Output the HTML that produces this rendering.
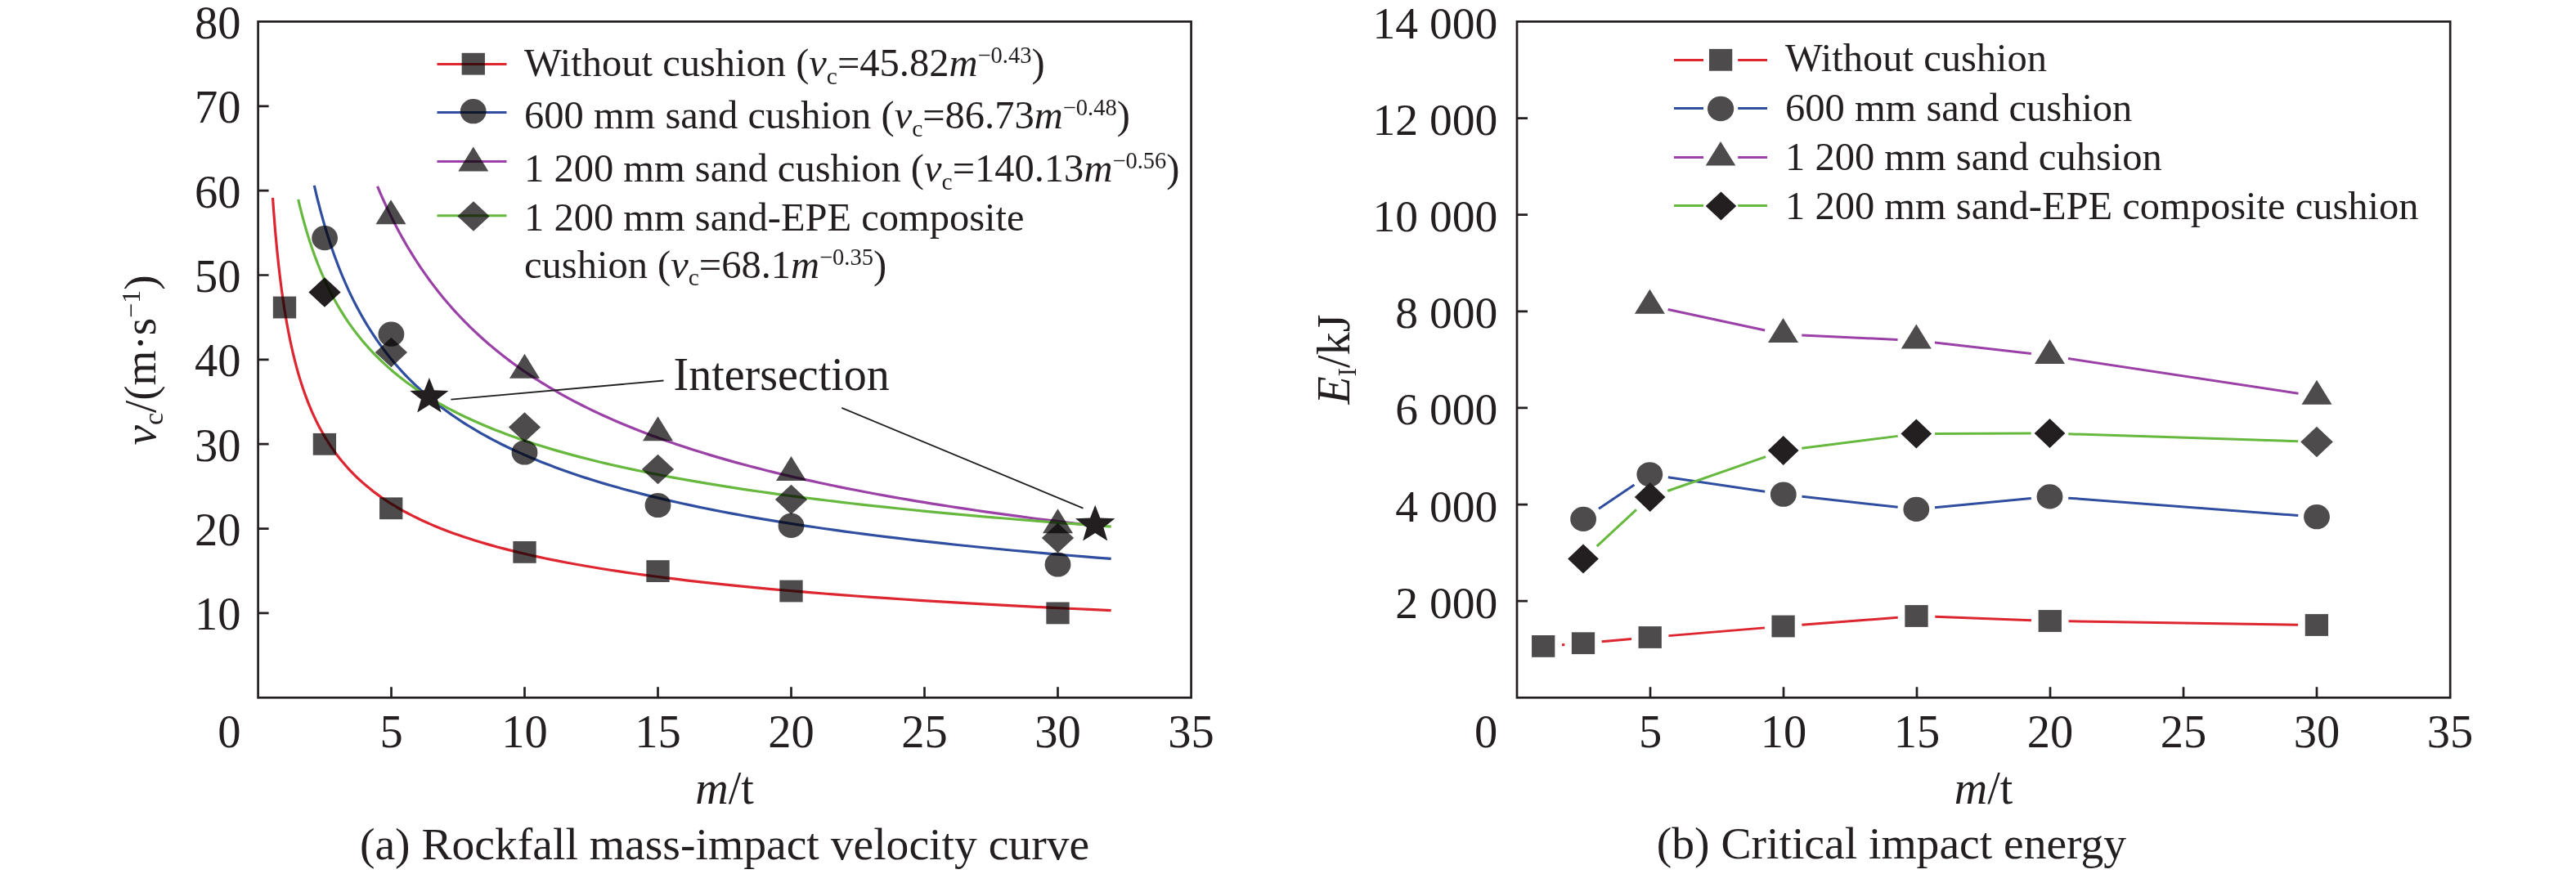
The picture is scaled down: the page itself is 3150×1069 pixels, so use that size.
<!DOCTYPE html><html><head><meta charset="utf-8"><style>html,body{margin:0;padding:0;background:#fff;}svg{display:block;}g.mul>*{mix-blend-mode:multiply;}text{font-family:"Liberation Serif",serif;fill:#231f20;}</style></head><body>
<svg width="3150" height="1069" viewBox="0 0 3150 1069">
<rect width="3150" height="1069" fill="#fff"/>
<path d="M333.5 241.83L333.96 248.47L334.43 255.03L334.92 261.52L335.42 267.95L335.93 274.3L336.45 280.58L336.99 286.8L337.55 292.94L338.11 299.02L338.69 305.04L339.29 310.99L339.9 316.87L340.53 322.69L341.17 328.45L341.83 334.15L342.51 339.78L343.2 345.35L343.91 350.87L344.64 356.32L345.39 361.71L346.16 367.05L346.95 372.32L347.76 377.54L348.59 382.71L349.44 387.81L350.31 392.86L351.2 397.86L352.12 402.8L353.06 407.69L354.03 412.53L355.02 417.31L356.03 422.04L357.07 426.72L358.14 431.35L359.24 435.93L360.36 440.46L361.51 444.94L362.7 449.37L363.91 453.75L365.15 458.09L366.43 462.38L367.74 466.62L369.08 470.82L370.46 474.97L371.87 479.07L373.32 483.13L374.81 487.15L376.33 491.12L377.89 495.05L379.5 498.94L381.14 502.79L382.83 506.59L384.56 510.35L386.33 514.08L388.15 517.76L390.02 521.4L391.94 525L393.9 528.56L395.92 532.09L397.98 535.57L400.1 539.02L402.28 542.43L404.51 545.8L406.79 549.14L409.14 552.44L411.55 555.71L414.01 558.94L416.55 562.13L419.14 565.29L421.81 568.41L424.54 571.51L427.34 574.56L430.22 577.59L433.16 580.58L436.19 583.54L439.29 586.47L442.47 589.36L445.73 592.23L449.08 595.06L452.51 597.86L456.03 600.64L459.65 603.38L463.35 606.09L467.15 608.77L471.05 611.43L475.04 614.05L479.14 616.65L483.35 619.21L487.66 621.75L492.09 624.27L496.63 626.75L501.28 629.21L506.06 631.64L510.95 634.05L515.98 636.43L521.13 638.78L526.41 641.11L531.83 643.41L537.39 645.69L543.1 647.94L548.94 650.17L554.94 652.38L561.1 654.56L567.41 656.71L573.88 658.85L580.52 660.96L587.33 663.04L594.32 665.11L601.49 667.15L608.84 669.17L616.37 671.17L624.11 673.14L632.04 675.1L640.17 677.03L648.52 678.95L657.07 680.84L665.85 682.71L674.86 684.56L684.09 686.39L693.56 688.2L703.28 689.99L713.25 691.77L723.47 693.52L733.95 695.25L744.71 696.97L755.74 698.67L767.05 700.34L778.65 702L790.56 703.65L802.77 705.27L815.29 706.88L828.13 708.46L841.31 710.04L854.82 711.59L868.68 713.13L882.9 714.65L897.48 716.15L912.43 717.64L927.77 719.11L943.51 720.57L959.65 722.01L976.2 723.44L993.18 724.85L1010.6 726.24L1028.46 727.62L1046.78 728.98L1065.58 730.33L1084.85 731.67L1104.63 732.99L1124.91 734.29L1145.71 735.58L1167.04 736.86L1188.93 738.12L1211.37 739.37L1234.4 740.61L1258.01 741.83L1282.23 743.04L1307.08 744.24L1332.56 745.42L1358.7 746.59" fill="none" stroke="#dd2630" stroke-width="3.2"/>
<path d="M384.29 226.88L385.46 231.97L386.66 237.02L387.88 242.02L389.12 246.99L390.39 251.91L391.67 256.8L392.98 261.65L394.3 266.45L395.65 271.22L397.03 275.95L398.42 280.64L399.85 285.29L401.29 289.91L402.76 294.48L404.26 299.02L405.78 303.53L407.33 307.99L408.9 312.42L410.5 316.82L412.13 321.17L413.79 325.5L415.47 329.79L417.18 334.04L418.93 338.26L420.7 342.44L422.5 346.59L424.34 350.71L426.2 354.79L428.1 358.84L430.03 362.86L431.99 366.84L433.99 370.79L436.02 374.71L438.08 378.6L440.19 382.46L442.32 386.28L444.5 390.08L446.71 393.84L448.96 397.57L451.24 401.28L453.57 404.95L455.94 408.59L458.34 412.2L460.79 415.79L463.28 419.34L465.81 422.87L468.39 426.36L471.01 429.83L473.68 433.27L476.39 436.68L479.14 440.07L481.95 443.43L484.8 446.76L487.7 450.06L490.66 453.33L493.66 456.58L496.71 459.81L499.82 463L502.98 466.17L506.19 469.32L509.46 472.44L512.78 475.53L516.16 478.6L519.6 481.65L523.1 484.66L526.66 487.66L530.28 490.63L533.96 493.58L537.7 496.5L541.51 499.4L545.38 502.27L549.32 505.12L553.33 507.95L557.41 510.76L561.55 513.54L565.77 516.3L570.06 519.04L574.42 521.75L578.86 524.45L583.38 527.12L587.97 529.77L592.64 532.4L597.39 535L602.22 537.59L607.13 540.16L612.13 542.7L617.21 545.22L622.39 547.73L627.65 550.21L633 552.67L638.44 555.11L643.97 557.53L649.6 559.94L655.33 562.32L661.15 564.68L667.08 567.03L673.1 569.36L679.23 571.66L685.47 573.95L691.81 576.22L698.26 578.47L704.82 580.7L711.49 582.92L718.28 585.11L725.18 587.29L732.2 589.45L739.34 591.6L746.61 593.72L754 595.83L761.51 597.92L769.16 600L776.93 602.06L784.84 604.1L792.88 606.12L801.07 608.13L809.39 610.12L817.85 612.1L826.46 614.06L835.22 616L844.13 617.93L853.19 619.84L862.4 621.74L871.78 623.62L881.31 625.48L891.01 627.34L900.87 629.17L910.91 630.99L921.11 632.8L931.49 634.59L942.05 636.37L952.79 638.13L963.71 639.88L974.82 641.61L986.12 643.33L997.61 645.04L1009.31 646.73L1021.2 648.41L1033.29 650.07L1045.59 651.72L1058.11 653.36L1070.83 654.98L1083.78 656.59L1096.95 658.19L1110.34 659.78L1123.97 661.35L1137.82 662.91L1151.92 664.46L1166.25 665.99L1180.83 667.51L1195.66 669.02L1210.75 670.52L1226.09 672L1241.7 673.48L1257.57 674.94L1273.72 676.39L1290.14 677.82L1306.85 679.25L1323.84 680.66L1341.12 682.07L1358.7 683.46" fill="none" stroke="#2f4ea0" stroke-width="3.2"/>
<path d="M461.55 227.89L463.34 232.14L465.15 236.37L466.99 240.56L468.85 244.73L470.73 248.87L472.63 252.98L474.56 257.07L476.51 261.12L478.48 265.15L480.48 269.15L482.5 273.13L484.55 277.07L486.63 280.99L488.73 284.89L490.85 288.75L493 292.6L495.18 296.41L497.38 300.2L499.61 303.96L501.87 307.7L504.16 311.41L506.47 315.1L508.81 318.76L511.18 322.39L513.58 326.01L516.01 329.59L518.47 333.16L520.96 336.69L523.48 340.21L526.03 343.7L528.61 347.17L531.23 350.61L533.87 354.03L536.55 357.43L539.26 360.8L542.01 364.15L544.78 367.48L547.6 370.78L550.44 374.07L553.32 377.33L556.24 380.56L559.19 383.78L562.18 386.97L565.21 390.15L568.27 393.3L571.37 396.43L574.51 399.53L577.68 402.62L580.9 405.69L584.15 408.73L587.45 411.76L590.78 414.76L594.16 417.74L597.58 420.71L601.04 423.65L604.54 426.57L608.08 429.48L611.67 432.36L615.3 435.22L618.98 438.07L622.7 440.89L626.47 443.7L630.29 446.48L634.15 449.25L638.05 452L642.01 454.73L646.01 457.44L650.07 460.14L654.17 462.81L658.32 465.47L662.53 468.11L666.79 470.73L671.09 473.33L675.45 475.91L679.87 478.48L684.34 481.03L688.86 483.56L693.44 486.08L698.08 488.58L702.77 491.06L707.52 493.52L712.33 495.97L717.19 498.4L722.12 500.82L727.11 503.21L732.15 505.59L737.26 507.96L742.44 510.31L747.67 512.64L752.97 514.96L758.34 517.26L763.77 519.55L769.27 521.82L774.83 524.07L780.47 526.31L786.17 528.54L791.94 530.75L797.78 532.94L803.7 535.12L809.69 537.29L815.75 539.44L821.88 541.57L828.09 543.69L834.38 545.8L840.74 547.89L847.19 549.97L853.71 552.03L860.31 554.08L866.99 556.12L873.75 558.14L880.6 560.15L887.53 562.14L894.55 564.12L901.65 566.09L908.84 568.04L916.11 569.98L923.48 571.91L930.93 573.82L938.48 575.73L946.12 577.61L953.86 579.49L961.69 581.35L969.61 583.2L977.63 585.04L985.75 586.87L993.97 588.68L1002.3 590.48L1010.72 592.27L1019.25 594.04L1027.88 595.81L1036.61 597.56L1045.46 599.3L1054.41 601.02L1063.47 602.74L1072.65 604.45L1081.93 606.14L1091.33 607.82L1100.85 609.49L1110.48 611.15L1120.23 612.8L1130.1 614.43L1140.09 616.06L1150.2 617.67L1160.44 619.27L1170.8 620.87L1181.29 622.45L1191.91 624.02L1202.66 625.58L1213.54 627.13L1224.55 628.67L1235.7 630.19L1246.99 631.71L1258.41 633.22L1269.97 634.72L1281.68 636.2L1293.53 637.68L1305.53 639.15L1317.67 640.6L1329.96 642.05L1342.4 643.49" fill="none" stroke="#9a40a6" stroke-width="3.2"/>
<path d="M364.73 243.96L365.67 248.02L366.64 252.05L367.63 256.05L368.63 260.03L369.65 263.98L370.7 267.9L371.76 271.8L372.85 275.67L373.95 279.52L375.08 283.34L376.23 287.13L377.4 290.9L378.59 294.64L379.8 298.36L381.04 302.06L382.31 305.73L383.59 309.37L384.9 312.99L386.24 316.59L387.61 320.16L388.99 323.71L390.41 327.24L391.85 330.74L393.33 334.22L394.82 337.68L396.35 341.11L397.91 344.52L399.5 347.91L401.12 351.27L402.77 354.61L404.45 357.93L406.16 361.23L407.91 364.51L409.69 367.76L411.51 370.99L413.36 374.21L415.24 377.39L417.16 380.56L419.12 383.71L421.12 386.84L423.15 389.94L425.23 393.03L427.34 396.09L429.5 399.14L431.69 402.16L433.93 405.16L436.21 408.15L438.54 411.11L440.91 414.05L443.33 416.98L445.79 419.88L448.3 422.77L450.86 425.63L453.47 428.48L456.13 431.31L458.84 434.12L461.6 436.91L464.41 439.68L467.28 442.44L470.21 445.17L473.19 447.89L476.23 450.59L479.32 453.27L482.48 455.93L485.7 458.58L488.98 461.2L492.32 463.82L495.73 466.41L499.2 468.98L502.74 471.54L506.35 474.08L510.02 476.61L513.77 479.12L517.59 481.61L521.49 484.08L525.46 486.54L529.5 488.98L533.62 491.41L537.83 493.82L542.11 496.21L546.48 498.59L550.93 500.95L555.46 503.29L560.09 505.63L564.8 507.94L569.6 510.24L574.5 512.52L579.49 514.79L584.58 517.05L589.76 519.28L595.05 521.51L600.43 523.72L605.92 525.91L611.52 528.09L617.22 530.26L623.04 532.41L628.96 534.54L635 536.66L641.16 538.77L647.43 540.87L653.83 542.95L660.35 545.01L666.99 547.07L673.77 549.1L680.67 551.13L687.71 553.14L694.88 555.14L702.19 557.12L709.64 559.1L717.23 561.05L724.97 563L732.86 564.93L740.91 566.85L749.1 568.76L757.46 570.65L765.97 572.54L774.65 574.41L783.5 576.26L792.52 578.11L801.71 579.94L811.08 581.76L820.63 583.57L830.36 585.36L840.28 587.15L850.39 588.92L860.7 590.68L871.21 592.43L881.91 594.16L892.83 595.89L903.95 597.6L915.29 599.3L926.85 601L938.63 602.68L950.63 604.34L962.87 606L975.34 607.65L988.06 609.28L1001.02 610.91L1014.23 612.52L1027.69 614.12L1041.41 615.72L1055.4 617.3L1069.66 618.87L1084.19 620.43L1099 621.98L1114.1 623.52L1129.48 625.05L1145.17 626.57L1161.15 628.08L1177.45 629.58L1194.06 631.07L1210.99 632.55L1228.24 634.02L1245.83 635.48L1263.75 636.93L1282.03 638.37L1300.65 639.8L1319.63 641.22L1338.98 642.63L1358.7 644.03" fill="none" stroke="#66b93e" stroke-width="3.2"/>
<path d="M551.4 488.7L811.5 465.5M1029.3 498.9L1324.5 621.6" stroke="#231f20" stroke-width="1.8" fill="none"/>
<g class="mul">
<rect x="333.85" y="362.6" width="28.3" height="26.8" fill="#4d4b4c"/>
<rect x="382.75" y="529.9" width="28.3" height="26.8" fill="#4d4b4c"/>
<rect x="464.05" y="608.4" width="28.3" height="26.8" fill="#4d4b4c"/>
<rect x="627.35" y="662" width="28.3" height="26.8" fill="#4d4b4c"/>
<rect x="790.35" y="685.2" width="28.3" height="26.8" fill="#4d4b4c"/>
<rect x="953.35" y="709.6" width="28.3" height="26.8" fill="#4d4b4c"/>
<rect x="1279.35" y="736.5" width="28.3" height="26.8" fill="#4d4b4c"/>
<ellipse cx="397.1" cy="291.1" rx="15.9" ry="15.1" fill="#4d4b4c"/>
<ellipse cx="478.4" cy="408.7" rx="15.9" ry="15.1" fill="#4d4b4c"/>
<ellipse cx="641.5" cy="553.5" rx="15.9" ry="15.1" fill="#4d4b4c"/>
<ellipse cx="804.5" cy="618" rx="15.9" ry="15.1" fill="#4d4b4c"/>
<ellipse cx="967.5" cy="642.9" rx="15.9" ry="15.1" fill="#4d4b4c"/>
<ellipse cx="1293.5" cy="690.5" rx="15.9" ry="15.1" fill="#4d4b4c"/>
<path d="M478 244.2L496.5 274.2L459.5 274.2Z" fill="#4d4b4c"/>
<path d="M641.5 432.7L660 462.7L623 462.7Z" fill="#4d4b4c"/>
<path d="M804.5 509.3L823 539.3L786 539.3Z" fill="#4d4b4c"/>
<path d="M967.5 558.1L986 588.1L949 588.1Z" fill="#4d4b4c"/>
<path d="M1293.5 622.3L1312 652.3L1275 652.3Z" fill="#4d4b4c"/>
<path d="M478.4 412.85L498.05 431.1L478.4 449.35L458.75 431.1Z" fill="#4d4b4c"/>
<path d="M641.5 504.25L661.15 522.5L641.5 540.75L621.85 522.5Z" fill="#4d4b4c"/>
<path d="M804.5 555.75L824.15 574L804.5 592.25L784.85 574Z" fill="#4d4b4c"/>
<path d="M967.5 592.75L987.15 611L967.5 629.25L947.85 611Z" fill="#4d4b4c"/>
<path d="M1293.5 639.75L1313.15 658L1293.5 676.25L1273.85 658Z" fill="#4d4b4c"/>
<path d="M397 339.15L416.65 357.4L397 375.65L377.35 357.4Z" fill="#231f20"/>
</g>
<path d="M524.9 461.9L530.9 477.3L548.5 477.9L534.9 488.6L539.6 504.5L524.9 495.2L510.2 504.5L514.9 488.6L501.3 477.9L518.9 477.3Z" fill="#231f20"/>
<path d="M1339.2 617.8L1345.35 633.58L1363.39 634.2L1349.45 645.16L1354.27 661.46L1339.2 651.93L1324.13 661.46L1328.95 645.16L1315.01 634.2L1333.05 633.58Z" fill="#231f20"/>
<text x="823.5" y="477" font-size="56">Intersection</text>
<rect x="315.6" y="26.4" width="1141" height="826.9" fill="none" stroke="#231f20" stroke-width="2.7"/>
<path d="M315.6 749.94H328.6M315.6 646.58H328.6M315.6 543.22H328.6M315.6 439.86H328.6M315.6 336.5H328.6M315.6 233.14H328.6M315.6 129.78H328.6M478.5 853.3V840.3M641.5 853.3V840.3M804.5 853.3V840.3M967.5 853.3V840.3M1130.5 853.3V840.3M1293.5 853.3V840.3" stroke="#231f20" stroke-width="2.7" fill="none"/>
<text x="294.5" y="770.44" font-size="56.5" text-anchor="end">10</text>
<text x="294.5" y="667.08" font-size="56.5" text-anchor="end">20</text>
<text x="294.5" y="563.72" font-size="56.5" text-anchor="end">30</text>
<text x="294.5" y="460.36" font-size="56.5" text-anchor="end">40</text>
<text x="294.5" y="357" font-size="56.5" text-anchor="end">50</text>
<text x="294.5" y="253.64" font-size="56.5" text-anchor="end">60</text>
<text x="294.5" y="150.28" font-size="56.5" text-anchor="end">70</text>
<text x="294.5" y="46.92" font-size="56.5" text-anchor="end">80</text>
<text x="294.5" y="913.5" font-size="56.5" text-anchor="end">0</text>
<text x="478.5" y="913.5" font-size="56.5" text-anchor="middle">5</text>
<text x="641.5" y="913.5" font-size="56.5" text-anchor="middle">10</text>
<text x="804.5" y="913.5" font-size="56.5" text-anchor="middle">15</text>
<text x="967.5" y="913.5" font-size="56.5" text-anchor="middle">20</text>
<text x="1130.5" y="913.5" font-size="56.5" text-anchor="middle">25</text>
<text x="1293.5" y="913.5" font-size="56.5" text-anchor="middle">30</text>
<text x="1456.5" y="913.5" font-size="56.5" text-anchor="middle">35</text>
<text x="886" y="983.2" font-size="56" text-anchor="middle"><tspan font-style="italic">m</tspan>/t</text>
<text transform="translate(190 440.5) rotate(-90)" font-size="55" text-anchor="middle"><tspan font-style="italic">v</tspan><tspan font-size="34" dy="9">c</tspan><tspan dy="-9">/(m·s</tspan><tspan font-size="32" dy="-19">−1</tspan><tspan dy="19">)</tspan></text>
<text x="886" y="1050.8" font-size="55.6" text-anchor="middle">(a) Rockfall mass-impact velocity curve</text>
<path d="M534.5 78.4H619.5" stroke="#dd2630" stroke-width="3"/>
<path d="M534.5 137.5H619.5" stroke="#2f4ea0" stroke-width="3"/>
<path d="M534.5 197.5H619.5" stroke="#9a40a6" stroke-width="3"/>
<path d="M534.5 263.7H619.5" stroke="#66b93e" stroke-width="3"/>
<g class="mul">
<rect x="564.65" y="64.8" width="28.3" height="26.8" fill="#4d4b4c"/>
<ellipse cx="578.7" cy="136.2" rx="15.9" ry="15.1" fill="#4d4b4c"/>
<path d="M578.8 179.4L597.3 209.4L560.3 209.4Z" fill="#4d4b4c"/>
<path d="M579 246.25L598.65 264.5L579 282.75L559.35 264.5Z" fill="#4d4b4c"/>
</g>
<text x="641" y="93.3" font-size="48.5">Without cushion (<tspan font-style="italic">v</tspan><tspan font-size="29.5" dy="9.5">c</tspan><tspan dy="-9.5">=45.82</tspan><tspan font-style="italic">m</tspan><tspan font-size="28.5" dy="-16">−0.43</tspan><tspan dy="16">)</tspan></text>
<text x="641" y="157.1" font-size="48.5">600 mm sand cushion (<tspan font-style="italic">v</tspan><tspan font-size="29.5" dy="9.5">c</tspan><tspan dy="-9.5">=86.73</tspan><tspan font-style="italic">m</tspan><tspan font-size="28.5" dy="-16">−0.48</tspan><tspan dy="16">)</tspan></text>
<text x="641" y="222.3" font-size="48.5">1 200 mm sand cushion (<tspan font-style="italic">v</tspan><tspan font-size="29.5" dy="9.5">c</tspan><tspan dy="-9.5">=140.13</tspan><tspan font-style="italic">m</tspan><tspan font-size="28.5" dy="-16">−0.56</tspan><tspan dy="16">)</tspan></text>
<text x="641" y="282.3" font-size="48.5">1 200 mm sand-EPE composite</text>
<text x="641" y="339.9" font-size="48.5">cushion (<tspan font-style="italic">v</tspan><tspan font-size="29.5" dy="9.5">c</tspan><tspan dy="-9.5">=68.1</tspan><tspan font-style="italic">m</tspan><tspan font-size="28.5" dy="-16">−0.35</tspan><tspan dy="16">)</tspan></text>
<path d="M1909.93 788.68L1913.27 788.42M1958.71 784.7L1994.99 781.5M2040.42 777.62L2157.88 767.88M2203.33 764.26L2320.77 755.24M2366.28 754.34L2484.02 758.66M2529.6 759.85L2810.1 764.15" stroke="#dd2630" stroke-width="3" fill="none"/>
<path d="M1955.02 622.18L1998.38 593.02M2039.85 583.67L2158.25 601.33M2203.46 607.24L2320.64 620.36M2366 620.74L2483.8 609.56M2529.23 609.13L2810.27 630.47" stroke="#2f4ea0" stroke-width="3" fill="none"/>
<path d="M2039.69 378.51L2158.21 404.09M2203.28 409.96L2320.52 415.44M2365.95 419.08L2483.85 432.52M2529.04 438.52L2810.46 481.28" stroke="#9a40a6" stroke-width="3" fill="none"/>
<path d="M1952.74 668.03L2000.96 623.47M2039.23 600.49L2159.17 558.61M2203.32 548.23L2320.68 533.37M2366.1 530.43L2483.7 530.07M2529.29 530.73L2810.21 539.77" stroke="#66b93e" stroke-width="3" fill="none"/>
<rect x="1873.05" y="777" width="28.3" height="26.8" fill="#4d4b4c"/>
<rect x="1921.85" y="773.3" width="28.3" height="26.8" fill="#4d4b4c"/>
<rect x="2003.55" y="766.1" width="28.3" height="26.8" fill="#4d4b4c"/>
<rect x="2166.45" y="752.6" width="28.3" height="26.8" fill="#4d4b4c"/>
<rect x="2329.35" y="740.1" width="28.3" height="26.8" fill="#4d4b4c"/>
<rect x="2492.65" y="746.1" width="28.3" height="26.8" fill="#4d4b4c"/>
<rect x="2818.75" y="751.1" width="28.3" height="26.8" fill="#4d4b4c"/>
<ellipse cx="1936.1" cy="634.9" rx="15.9" ry="15.1" fill="#4d4b4c"/>
<ellipse cx="2017.3" cy="580.3" rx="15.9" ry="15.1" fill="#4d4b4c"/>
<ellipse cx="2180.8" cy="604.7" rx="15.9" ry="15.1" fill="#4d4b4c"/>
<ellipse cx="2343.3" cy="622.9" rx="15.9" ry="15.1" fill="#4d4b4c"/>
<ellipse cx="2506.5" cy="607.4" rx="15.9" ry="15.1" fill="#4d4b4c"/>
<ellipse cx="2833" cy="632.2" rx="15.9" ry="15.1" fill="#4d4b4c"/>
<path d="M2017.4 353.7L2035.9 383.7L1998.9 383.7Z" fill="#4d4b4c"/>
<path d="M2180.5 388.9L2199 418.9L2162 418.9Z" fill="#4d4b4c"/>
<path d="M2343.3 396.5L2361.8 426.5L2324.8 426.5Z" fill="#4d4b4c"/>
<path d="M2506.5 415.1L2525 445.1L2488 445.1Z" fill="#4d4b4c"/>
<path d="M2833 464.7L2851.5 494.7L2814.5 494.7Z" fill="#4d4b4c"/>
<path d="M1936 665.5L1954.85 683.5L1936 701.5L1917.15 683.5Z" fill="#231f20"/>
<path d="M2017.7 590L2036.55 608L2017.7 626L1998.85 608Z" fill="#231f20"/>
<path d="M2180.7 533.1L2199.55 551.1L2180.7 569.1L2161.85 551.1Z" fill="#231f20"/>
<path d="M2343.3 512.5L2362.15 530.5L2343.3 548.5L2324.45 530.5Z" fill="#231f20"/>
<path d="M2506.5 512L2525.35 530L2506.5 548L2487.65 530Z" fill="#231f20"/>
<path d="M2833 521.75L2852.8 540.5L2833 559.25L2813.2 540.5Z" fill="#4d4b4c"/>
<rect x="1855" y="26.4" width="1141.2" height="826.9" fill="none" stroke="#231f20" stroke-width="2.7"/>
<path d="M1855 735.17H1868M1855 617.04H1868M1855 498.91H1868M1855 380.79H1868M1855 262.66H1868M1855 144.53H1868M2018 853.3V840.3M2181 853.3V840.3M2344 853.3V840.3M2507 853.3V840.3M2670 853.3V840.3M2833 853.3V840.3" stroke="#231f20" stroke-width="2.7" fill="none"/>
<text x="1831.3" y="755.67" font-size="55.6" text-anchor="end">2 000</text>
<text x="1831.3" y="637.54" font-size="55.6" text-anchor="end">4 000</text>
<text x="1831.3" y="519.41" font-size="55.6" text-anchor="end">6 000</text>
<text x="1831.3" y="401.29" font-size="55.6" text-anchor="end">8 000</text>
<text x="1831.3" y="283.16" font-size="55.6" text-anchor="end">10 000</text>
<text x="1831.3" y="165.03" font-size="55.6" text-anchor="end">12 000</text>
<text x="1831.3" y="46.9" font-size="55.6" text-anchor="end">14 000</text>
<text x="1831.3" y="913.5" font-size="56.5" text-anchor="end">0</text>
<text x="2018" y="913.5" font-size="56.5" text-anchor="middle">5</text>
<text x="2181" y="913.5" font-size="56.5" text-anchor="middle">10</text>
<text x="2344" y="913.5" font-size="56.5" text-anchor="middle">15</text>
<text x="2507" y="913.5" font-size="56.5" text-anchor="middle">20</text>
<text x="2670" y="913.5" font-size="56.5" text-anchor="middle">25</text>
<text x="2833" y="913.5" font-size="56.5" text-anchor="middle">30</text>
<text x="2996" y="913.5" font-size="56.5" text-anchor="middle">35</text>
<text x="2425.5" y="983.4" font-size="56" text-anchor="middle"><tspan font-style="italic">m</tspan>/t</text>
<text transform="translate(1649.5 439.5) rotate(-90)" font-size="56" text-anchor="middle"><tspan font-style="italic">E</tspan><tspan font-size="31" dy="8">I</tspan><tspan dy="-8">/kJ</tspan></text>
<text x="2313" y="1050.4" font-size="55.55" text-anchor="middle">(b) Critical impact energy</text>
<path d="M2047 73.5H2083M2125.2 73.5H2161" stroke="#dd2630" stroke-width="3"/>
<path d="M2047 132.4H2083M2125.2 132.4H2161" stroke="#2f4ea0" stroke-width="3"/>
<path d="M2047 192.5H2083M2125.2 192.5H2161" stroke="#9a40a6" stroke-width="3"/>
<path d="M2047 251.4H2083M2125.2 251.4H2161" stroke="#66b93e" stroke-width="3"/>
<rect x="2089.95" y="59.9" width="28.3" height="26.8" fill="#4d4b4c"/>
<ellipse cx="2104.1" cy="133" rx="16.1" ry="15.2" fill="#4d4b4c"/>
<path d="M2104 172.9L2122.3 202.6L2085.7 202.6Z" fill="#4d4b4c"/>
<path d="M2104.5 234.5L2123.25 252L2104.5 269.5L2085.75 252Z" fill="#231f20"/>
<text x="2183" y="86.5" font-size="48.5">Without cushion</text>
<text x="2183" y="147.6" font-size="48.5">600 mm sand cushion</text>
<text x="2183" y="207.7" font-size="48.5">1 200 mm sand cuhsion</text>
<text x="2183" y="268.1" font-size="48.5">1 200 mm sand-EPE composite cushion</text>
</svg></body></html>
